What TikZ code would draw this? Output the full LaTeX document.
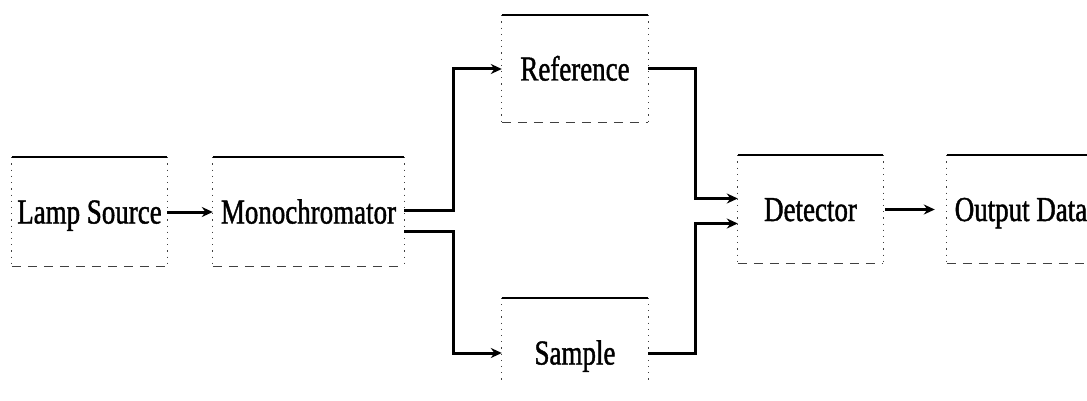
\documentclass[tikz,border=0pt]{standalone}
\usepackage{fontspec}
\setmainfont{Liberation Serif}[FakeStretch=0.77,FakeBold=1.2]
\usetikzlibrary{arrows.meta}
\begin{document}
\begin{tikzpicture}[x=1pt,y=-1pt,
  blk/.style={draw=none,inner sep=0pt,text height=23pt,text depth=0pt,
    font=\fontsize{35}{40}\selectfont},
  topline/.style={line width=2pt,black},
  sideline/.style={line width=1pt,black!75,dash pattern=on 1.2pt off 5pt},
  botline/.style={line width=1.2pt,black!75,dash pattern=on 9pt off 7pt},
  conn/.style={line width=3pt,black,-{Stealth[length=11pt,width=10pt]}}]
\useasboundingbox (0,0) rectangle (1087,401);
% nodes
\node[blk,minimum width=155pt,minimum height=109pt] (lamp) at (89.5,212) {Lamp Source};
\node[blk,minimum width=191pt,minimum height=109pt] (mono) at (308.5,212) {Monochromator};
\node[blk,minimum width=146pt,minimum height=107pt] (ref) at (575,69) {Reference};
\node[blk,minimum width=146pt,minimum height=110pt] (sample) at (575,353) {Sample};
\node[blk,minimum width=145pt,minimum height=108pt] (det) at (810.5,209.5) {Detector};
\node[blk,minimum width=148pt,minimum height=108pt] (out) at (1021,209.5) {Output Data};
% frames
\foreach \n in {lamp,mono,ref,det,out}{
  \draw[topline] (\n.north west) -- (\n.north east);
  \draw[sideline] (\n.north west) -- (\n.south west);
  \draw[sideline] (\n.north east) -- (\n.south east);
  \draw[botline] (\n.south west) -- (\n.south east);
}
\draw[topline] (sample.north west) -- (sample.north east);
\draw[sideline] (sample.north west) -- ++(0,85);
\draw[sideline] (sample.north east) -- ++(0,85);
% connectors
\draw[conn] (lamp.east) -- (mono.west);
\draw[conn] ([yshift=2pt]mono.east) -- ++(49,0) |- (ref.west);
\draw[conn] ([yshift=-19pt]mono.east) -- ++(49,0) |- (sample.west);
\draw[conn] (ref.east) -- ++(47,0) |- ([yshift=11pt]det.west);
\draw[conn] (sample.east) -- ++(47,0) |- ([yshift=-14pt]det.west);
\draw[conn] ([xshift=2pt]det.east) -- ([xshift=-12pt]out.west);
\end{tikzpicture}
\end{document}
